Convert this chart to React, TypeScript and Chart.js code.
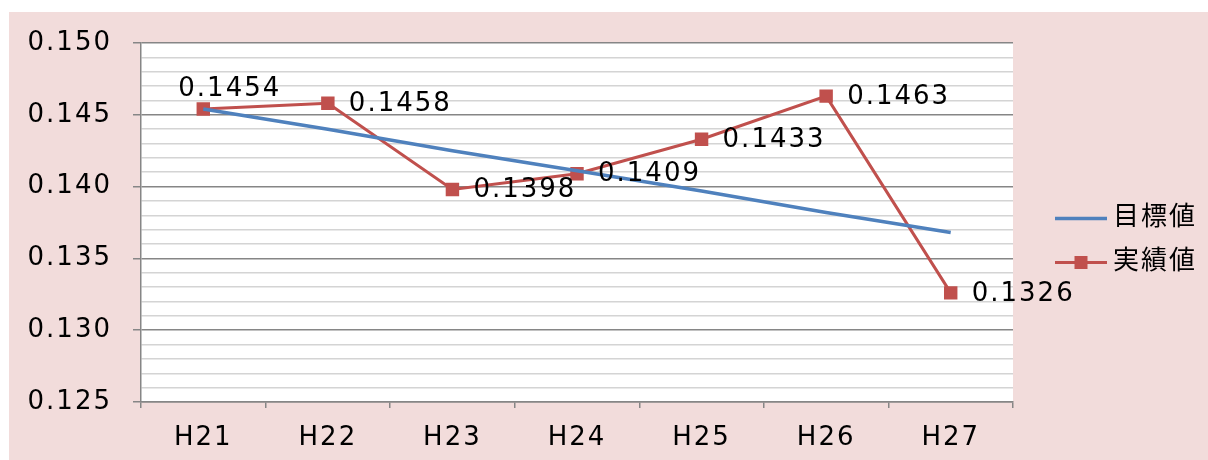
import React, { useEffect, useRef } from "react";
import { Chart, registerables } from "chart.js";

Chart.register(...registerables);

const categories = ["H21", "H22", "H23", "H24", "H25", "H26", "H27"];
const targetValues = [0.1454, 0.144, 0.1425, 0.1411, 0.1397, 0.1382, 0.1368];
const actualValues = [0.1454, 0.1458, 0.1398, 0.1409, 0.1433, 0.1463, 0.1326];
const seriesLabels = ["目標値", "実績値"];
const yMin = 0.125;
const yMax = 0.15;
const yStep = 0.001;
const yMajorEvery = 5;

const FONT = "'DejaVu Sans', 'Noto Sans CJK JP', sans-serif";
const AXIS = "#868686";
const MINOR = "#d4d4d4";

const isMajor = (v: any) => {
  const n = Math.round(Number(v) / yStep);
  return n % yMajorEvery === 0;
};

const spacingPlugin = {
  id: "spacing",
  beforeLayout(chart: any) {
    chart.ctx.letterSpacing = "2px";
  },
  beforeDraw(chart: any) {
    chart.ctx.letterSpacing = "2px";
    const { ctx, chartArea } = chart;
    ctx.save();
    ctx.fillStyle = "#ffffff";
    ctx.fillRect(chartArea.left, chartArea.top, chartArea.right - chartArea.left, chartArea.bottom - chartArea.top);
    ctx.restore();
  },
};

const valueLabelPlugin = {
  id: "valueLabels",
  afterDatasetsDraw(chart: any) {
    const ctx = chart.ctx;
    const meta = chart.getDatasetMeta(1);
    ctx.save();
    ctx.font = `26px ${FONT}`;
    ctx.fillStyle = "#000";
    ctx.textBaseline = "middle";
    ctx.textAlign = "left";
    meta.data.forEach((pt: any, i: number) => {
      const txt = actualValues[i].toFixed(4);
      if (i === 0) ctx.fillText(txt, pt.x - 25, pt.y - 20);
      else ctx.fillText(txt, pt.x + 21, pt.y + 1);
    });
    ctx.restore();
  },
};

const legendPlugin = {
  id: "customLegend",
  afterDraw(chart: any) {
    const { ctx, chartArea } = chart;
    const x0 = chartArea.right + 42;
    const cy = (chartArea.top + chartArea.bottom) / 2 + 18;
    ctx.save();
    chart.data.datasets.forEach((ds: any, i: number) => {
      const y = cy + (i - 0.5) * 44;
      ctx.strokeStyle = ds.borderColor;
      ctx.lineWidth = ds.borderWidth;
      ctx.beginPath();
      ctx.moveTo(x0, y);
      ctx.lineTo(x0 + 52, y);
      ctx.stroke();
      if (ds.pointRadius > 0) {
        ctx.fillStyle = ds.pointBackgroundColor;
        ctx.fillRect(x0 + 26 - 6.5, y - 6.5, 13, 13);
      }
      ctx.fillStyle = "#000";
      ctx.font = `26px ${FONT}`;
      ctx.textBaseline = "middle";
      ctx.textAlign = "left";
      ctx.fillText(ds.label, x0 + 58, y);
    });
    ctx.restore();
  },
};

export default function App() {
  const ref = useRef<HTMLCanvasElement | null>(null);

  useEffect(() => {
    if (!ref.current) return;
    const chart = new Chart(ref.current, {
      type: "line",
      data: {
        labels: categories,
        datasets: [
          {
            label: seriesLabels[0],
            data: targetValues,
            borderColor: "#4f81bd",
            backgroundColor: "#4f81bd",
            borderWidth: 3.5,
            pointRadius: 0,
            pointHoverRadius: 0,
            tension: 0,
          },
          {
            label: seriesLabels[1],
            data: actualValues,
            borderColor: "#c0504d",
            backgroundColor: "#c0504d",
            pointBackgroundColor: "#c0504d",
            pointBorderColor: "#c0504d",
            borderWidth: 3,
            pointStyle: "rect",
            pointRadius: 9.5,
            pointBorderWidth: 0,
            tension: 0,
          },
        ],
      },
      options: {
        animation: false,
        responsive: true,
        maintainAspectRatio: false,
        layout: { padding: { top: 31, right: 195, left: 0, bottom: 0 } },
        plugins: {
          legend: { display: false },
          tooltip: { enabled: false },
        },
        scales: {
          x: {
            offset: true,
            afterFit(s: any) {
              s.height = 58;
            },
            ticks: { color: "#000", font: { family: FONT, size: 26 }, padding: 15 },
            grid: {
              drawOnChartArea: false,
              tickLength: 6,
              color: AXIS,
              lineWidth: 1.5,
              offset: true,
            },
            border: { color: AXIS, width: 1.5 },
          },
          y: {
            min: yMin,
            max: yMax,
            afterFit(s: any) {
              s.width = 132;
              s.paddingTop = 0;
              s.paddingBottom = 0;
            },
            ticks: {
              stepSize: yStep,
              autoSkip: false,
              padding: 21,
              color: "#000",
              font: { family: FONT, size: 26 },
              callback: (v: any) => (isMajor(v) ? Number(v).toFixed(3) : ""),
            },
            grid: {
              color: (c: any) => (c.tick && isMajor(c.tick.value) ? AXIS : MINOR),
              tickColor: (c: any) => (c.tick && isMajor(c.tick.value) ? AXIS : "rgba(0,0,0,0)"),
              lineWidth: 1.5,
              tickLength: 8,
            },
            border: { color: AXIS, width: 1.5 },
          },
        },
      },
      plugins: [spacingPlugin, valueLabelPlugin, legendPlugin],
    });
    return () => chart.destroy();
  }, []);

  return (
    <div
      style={{
        position: "absolute",
        left: 9,
        top: 12,
        width: 1199,
        height: 448,
        background: "#f2dcdb",
      }}
    >
      <canvas ref={ref} />
    </div>
  );
}
